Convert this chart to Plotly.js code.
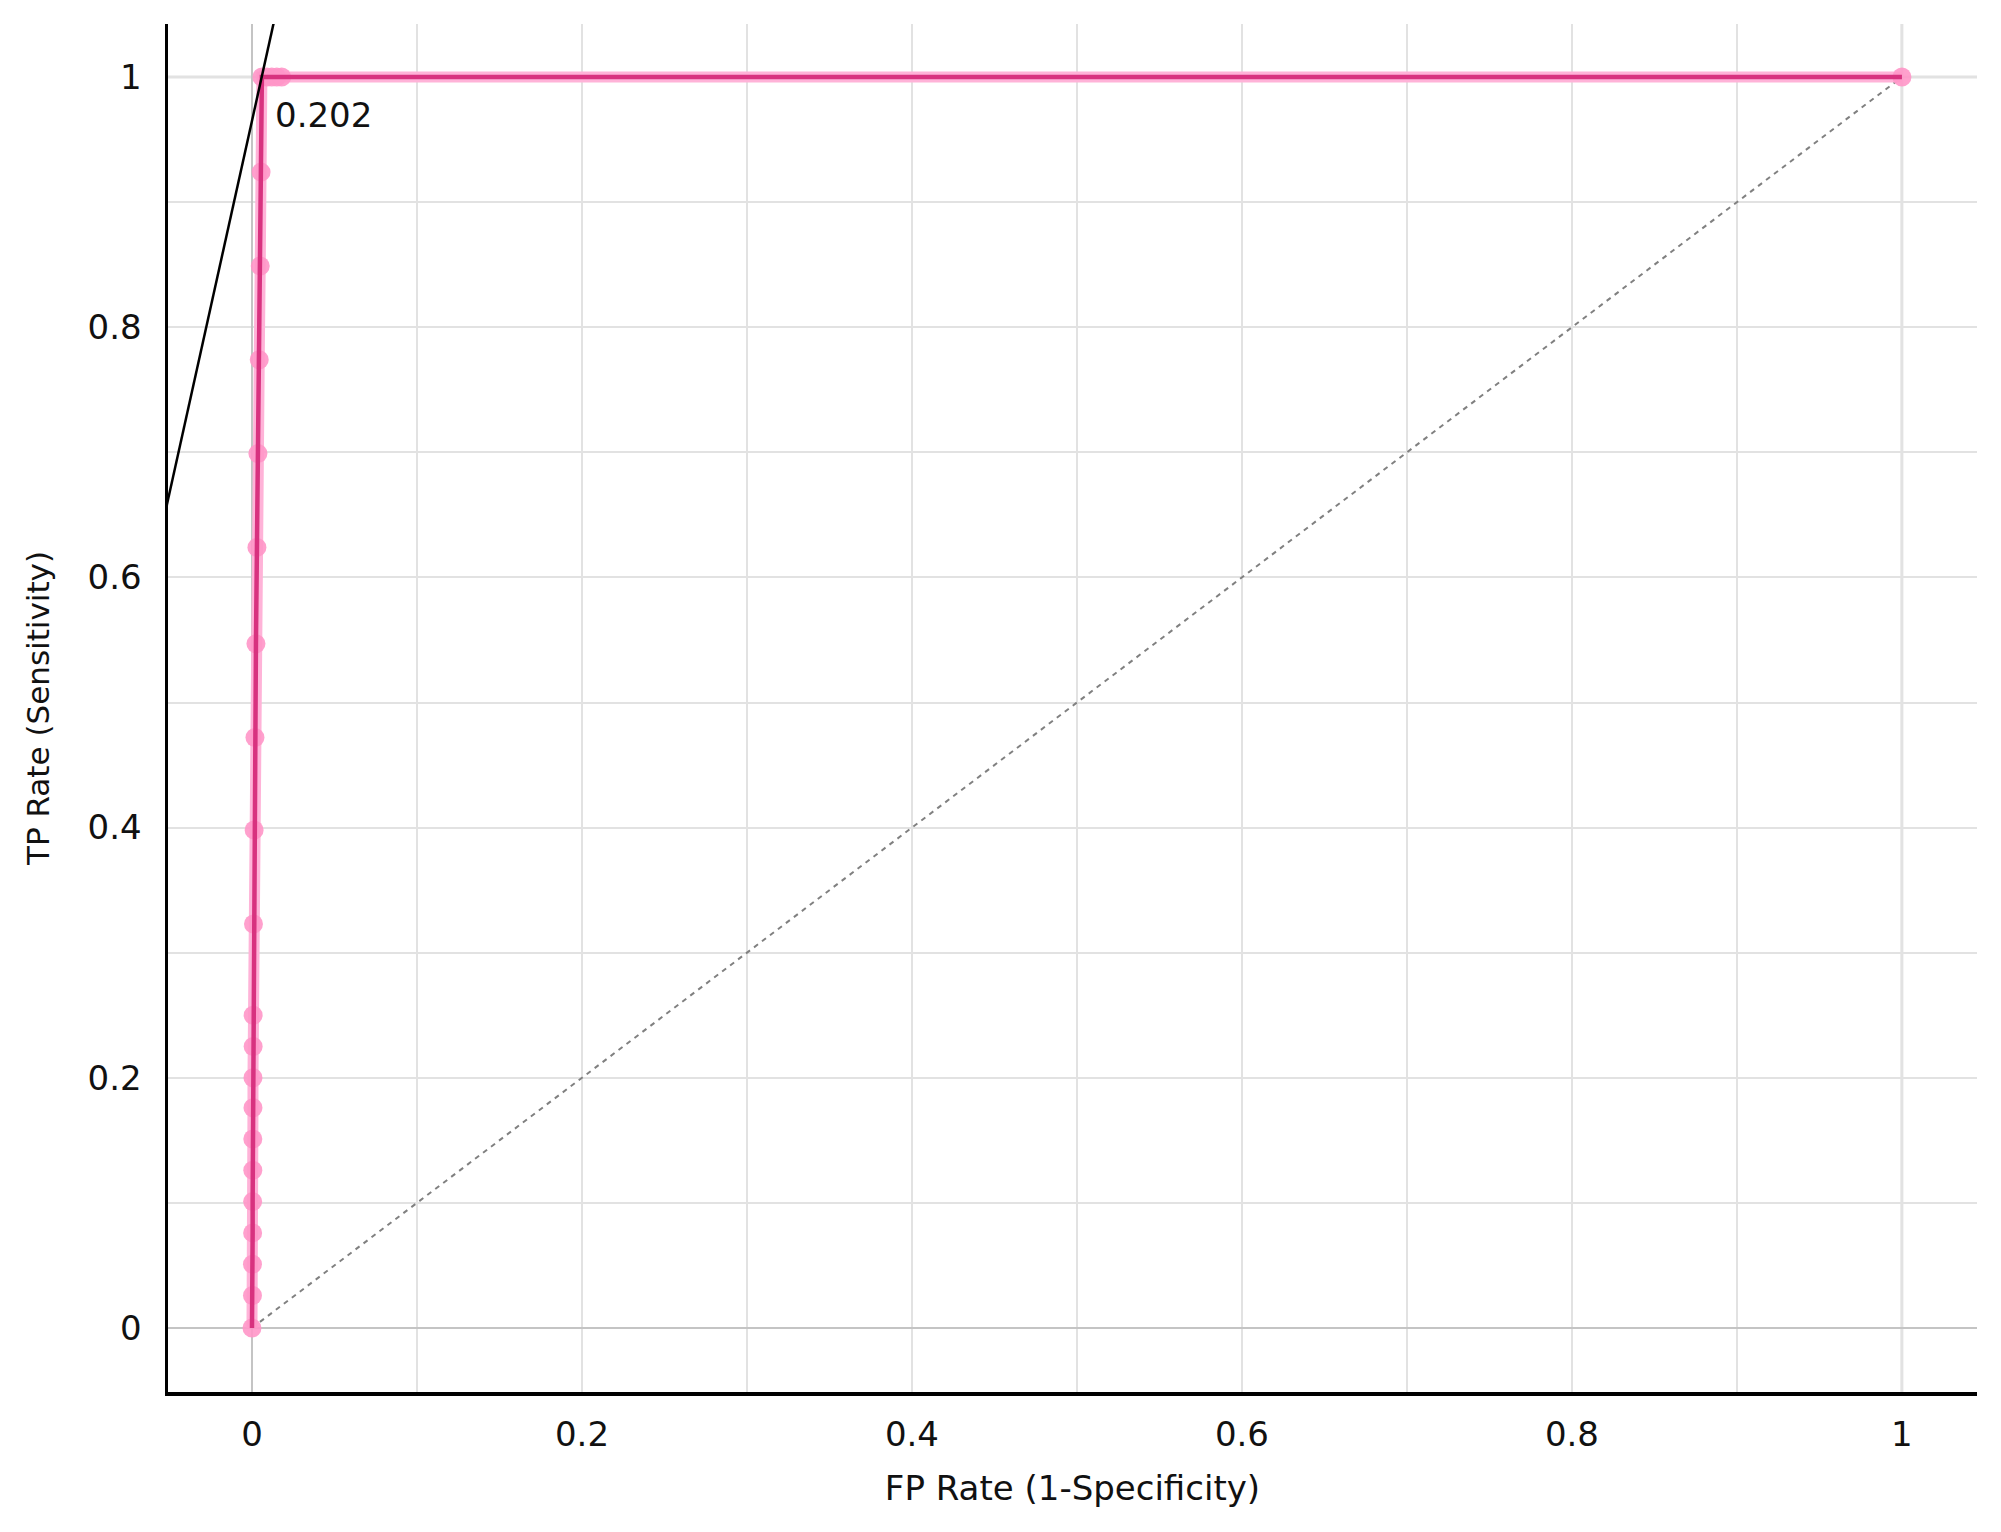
<!DOCTYPE html>
<html>
<head>
<meta charset="utf-8">
<script src="https://cdn.plot.ly/plotly-3.0.1.min.js"></script>
<style>
  html, body { margin: 0; padding: 0; background: #fff; }
  #roc { width: 2001px; height: 1532px; }
</style>
</head>
<body>
<div id="roc"></div>
<script>
'use strict';

// ROC curve points (FP rate, TP rate)
const fpRate = [0, 0.0003, 0.0003, 0.0004, 0.0004, 0.0005, 0.0005, 0.0006, 0.0006, 0.0007, 0.0007,
  0.0009, 0.0013, 0.0018, 0.0024, 0.003, 0.0036, 0.0044, 0.005, 0.0055, 0.006,
  0.009, 0.012, 0.015, 0.018, 1];
const tpRate = [0, 0.026, 0.051, 0.076, 0.101, 0.126, 0.151, 0.176, 0.2, 0.225, 0.25,
  0.323, 0.398, 0.472, 0.547, 0.624, 0.699, 0.774, 0.849, 0.924, 1,
  1, 1, 1, 1, 1];

// chance diagonal
const diagX = [0, 1];
const diagY = [0, 1];

// threshold line through the selected point
const threshX = [-0.06, 0.02];
const threshY = [0.608, 1.084];
const threshPoint = { x: 0.0127, y: 0.970, label: '0.202' };

const tickVals = [0, 0.2, 0.4, 0.6, 0.8, 1];
const tickText = ['0', '0.2', '0.4', '0.6', '0.8', '1'];

const font = 'DejaVu Sans, Verdana, sans-serif';

function renderRoc() {
  const diag = {
    x: diagX, y: diagY,
    type: 'scatter', mode: 'lines',
    line: { color: '#808080', width: 2, dash: '5px,5px' },
    hoverinfo: 'skip'
  };

  const curveOuter = {
    x: fpRate, y: tpRate,
    type: 'scatter', mode: 'lines+markers',
    line: { color: '#ffb3d8', width: 11 },
    marker: { color: 'rgba(255,150,200,0.9)', size: 19, symbol: 'circle' }
  };

  const curveInner = {
    x: fpRate, y: tpRate,
    type: 'scatter', mode: 'lines',
    line: { color: '#d8327f', width: 4.5 }
  };

  const thresh = {
    x: threshX, y: threshY,
    type: 'scatter', mode: 'lines',
    line: { color: '#000', width: 2.5 }
  };

  const data = [diag, curveOuter, curveInner, thresh];

  const axisBase = {
    showline: true,
    linecolor: '#000',
    linewidth: 3.5,
    mirror: false,
    ticks: '',
    tickvals: tickVals,
    ticktext: tickText,
    tickfont: { family: font, size: 34, color: '#111' },
    showgrid: true,
    gridcolor: '#e2e2e2',
    gridwidth: 2,
    minor: { dtick: 0.1, tick0: 0, showgrid: true, gridcolor: '#e2e2e2', gridwidth: 2, ticks: '' },
    zeroline: true,
    zerolinecolor: '#c4c4c4',
    zerolinewidth: 2.5
  };

  const layout = {
    width: 2001,
    height: 1532,
    margin: { l: 168, r: 24, t: 24, b: 140 },
    paper_bgcolor: '#fff',
    plot_bgcolor: '#fff',
    showlegend: false,
    xaxis: Object.assign({}, axisBase, {
      range: [-0.0509, 1.0455],
      ticklabelstandoff: 10,
      title: { text: 'FP Rate (1-Specificity)', font: { family: font, size: 34, color: '#111' }, standoff: 24 }
    }),
    yaxis: Object.assign({}, axisBase, {
      range: [-0.0512, 1.0424],
      ticklabelstandoff: 16,
      title: { text: 'TP Rate (Sensitivity)', font: { family: font, size: 31, color: '#111' }, standoff: 30 }
    }),
    shapes: [
      { type: 'line', xref: 'x', yref: 'paper', x0: 1, x1: 1, y0: 0, y1: 1, layer: 'below',
        line: { color: '#c4c4c4', width: 2.5 } },
      { type: 'line', xref: 'paper', yref: 'y', x0: 0, x1: 1, y0: 1, y1: 1, layer: 'below',
        line: { color: '#c4c4c4', width: 2.5 } }
    ],
    annotations: [{
      x: threshPoint.x, y: threshPoint.y, xref: 'x', yref: 'y',
      text: threshPoint.label, showarrow: false,
      xanchor: 'left', yanchor: 'middle',
      font: { family: font, size: 34, color: '#111' }
    }]
  };

  Plotly.newPlot('roc', data, layout, { displayModeBar: false, staticPlot: true });
}

renderRoc();
</script>
</body>
</html>
